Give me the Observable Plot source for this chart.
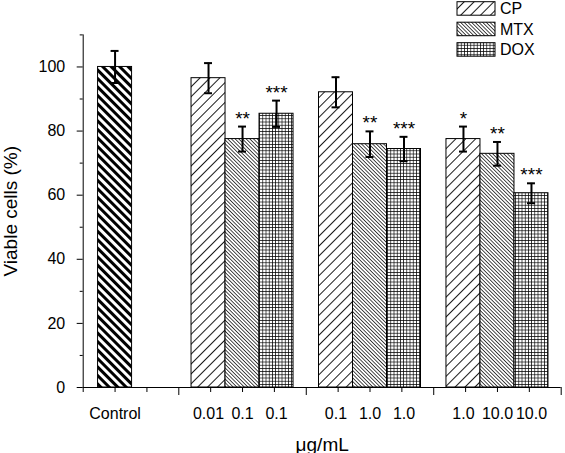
<!DOCTYPE html>
<html><head><meta charset="utf-8">
<script src="https://cdn.jsdelivr.net/npm/d3@7"></script>
<script src="https://cdn.jsdelivr.net/npm/@observablehq/plot@0.6"></script>
<style>body{margin:0;background:#fff}</style>
</head><body><div id="chart"></div>
<script>
const seriesNames = ["CP", "MTX", "DOX"];
const barLabels = ["Control", "0.01", "0.1", "0.1", "0.1", "1.0", "1.0", "1.0", "10.0", "10.0"];
const barSeries = ["Control", "CP", "MTX", "DOX", "CP", "MTX", "DOX", "CP", "MTX", "DOX"];
const groupCenters = [1, 5, 5, 5, 9, 9, 9, 13, 13, 13];
const slotInGroup = [0, -1, 0, 1, -1, 0, 1, -1, 0, 1];
const viable = [100, 96.5, 77.5, 85.4, 92.1, 75.9, 74.4, 77.5, 72.9, 60.6];
const errorSD = [5, 4.7, 3.9, 4.1, 4.7, 4.0, 3.8, 3.9, 3.7, 3.1];
const significance = ["", "", "**", "***", "", "**", "***", "*", "**", "***"];
const yMajorTicks = [0, 20, 40, 60, 80, 100];
const yMinorTicks = [10, 30, 50, 70, 90, 110];
const xMajorTicks = [3, 7, 11, 15];
const xMinorTicks = [0, 1, 2, 4, 5, 6, 8, 9, 10, 12, 13, 14];

const BAR_W = 1.067;
const CAP_HALF = 0.125;
const fills = {Control: "url(#pat-control)", CP: "url(#pat-cp)", MTX: "url(#pat-mtx)", DOX: "url(#pat-dox)"};
const rows = viable.map((v, i) => ({
  label: barLabels[i], series: barSeries[i],
  x: groupCenters[i] + slotInGroup[i] * BAR_W,
  v, sd: errorSD[i], star: significance[i]
}));

const font = "'Liberation Sans', Arial, Helvetica, sans-serif";
const chart = Plot.plot({
  width: 565, height: 453,
  marginLeft: 82.7, marginRight: 4.3, marginTop: 34.4, marginBottom: 66,
  style: {fontFamily: font, fontSize: "16px", background: "white", color: "black", overflow: "visible"},
  x: {domain: [0, 15]},
  y: {domain: [0, 110]},
  color: {type: "identity"},
  marks: [
    Plot.rectY(rows, {x1: d => d.x - BAR_W / 2, x2: d => d.x + BAR_W / 2, y1: 0, y2: "v", fill: d => fills[d.series], stroke: "black", strokeWidth: 1}),
    Plot.ruleX(rows, {x: "x", y1: d => d.v - d.sd, y2: d => d.v + d.sd, stroke: "black", strokeWidth: 2}),
    Plot.ruleY(rows, {y: d => d.v + d.sd, x1: d => d.x - CAP_HALF, x2: d => d.x + CAP_HALF, stroke: "black", strokeWidth: 2}),
    Plot.ruleY(rows, {y: d => d.v - d.sd, x1: d => d.x - CAP_HALF, x2: d => d.x + CAP_HALF, stroke: "black", strokeWidth: 2}),
    Plot.text(rows.filter(d => d.star), {x: "x", y: d => d.v + d.sd, text: "star", dy: -8, fontSize: 19, lineAnchor: "middle"}),
    Plot.text(rows, {x: "x", y: 0, text: "label", dy: 26, lineAnchor: "middle", fontSize: 16}),
    Plot.ruleX([0], {stroke: "black"}),
    Plot.ruleY([0], {stroke: "black"}),
    Plot.axisY({ticks: yMajorTicks, tickSize: 6, tickPadding: 12, fontSize: 16, label: null}),
    Plot.axisY({ticks: [], label: "Viable cells (%)", labelAnchor: "center", labelArrow: "none", labelOffset: 80, fontSize: 19}),
    Plot.axisY({ticks: yMinorTicks, tickSize: 3, tickFormat: () => "", label: null}),
    Plot.axisX({ticks: xMajorTicks, tickSize: 8, tickFormat: () => "", label: "μg/mL", labelAnchor: "center", labelArrow: "none", labelOffset: 63, fontSize: 19}),
    Plot.axisX({ticks: xMinorTicks, tickSize: 5, tickFormat: () => "", label: null})
  ]
});
document.getElementById("chart").appendChild(chart);

const svg = d3.select(chart);
const defs = svg.insert("defs", ":first-child");
function stripePattern(id, period, lineW, angle) {
  const p = defs.append("pattern").attr("id", id).attr("patternUnits", "userSpaceOnUse")
    .attr("width", period).attr("height", period).attr("patternTransform", `rotate(${angle})`);
  p.append("rect").attr("width", period).attr("height", period).attr("fill", "white");
  p.append("rect").attr("x", 0).attr("width", lineW).attr("height", period).attr("fill", "black");
}
stripePattern("pat-control", 6, 3, -45);
stripePattern("pat-cp", 7, 0.9, 45);
stripePattern("pat-mtx", 2.6, 0.7, -45);
{
  const per = 3.2;
  const p = defs.append("pattern").attr("id", "pat-dox").attr("patternUnits", "userSpaceOnUse")
    .attr("width", per).attr("height", per);
  p.append("rect").attr("width", per).attr("height", per).attr("fill", "white");
  p.append("rect").attr("width", 0.7).attr("height", per).attr("fill", "black");
  p.append("rect").attr("width", per).attr("height", 0.7).attr("fill", "black");
}

// legend
const lg = svg.append("g").attr("font-family", font).attr("font-size", 16).attr("text-anchor", "start");
seriesNames.forEach((s, i) => {
  const y0 = 1.7 + i * 20.5;
  lg.append("rect").attr("x", 457).attr("y", y0).attr("width", 38).attr("height", 13.5)
    .attr("fill", fills[s]).attr("stroke", "black").attr("stroke-width", 1);
  lg.append("text").attr("x", 500).attr("y", y0 + 6.75).attr("dy", "0.36em").attr("text-anchor", "start").text(s);
});
</script>
</body></html>
